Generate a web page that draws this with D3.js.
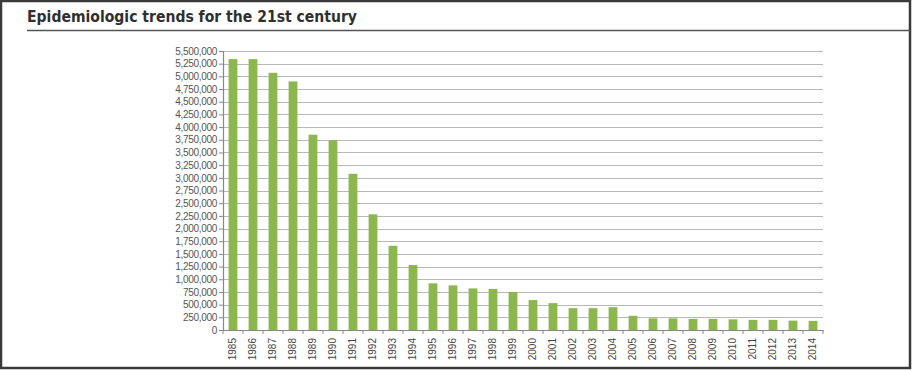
<!DOCTYPE html>
<html>
<head>
<meta charset="utf-8">
<script src="https://cdn.jsdelivr.net/npm/d3@7"></script>
<style>
  html, body { margin: 0; padding: 0; background: #fff; }
  svg { display: block; }
</style>
</head>
<body>
<div id="chart"></div>
<script>
// ---------- data ----------
const years = ['1985', '1986', '1987', '1988', '1989', '1990', '1991', '1992', '1993', '1994',
  '1995', '1996', '1997', '1998', '1999', '2000', '2001', '2002', '2003', '2004',
  '2005', '2006', '2007', '2008', '2009', '2010', '2011', '2012', '2013', '2014'];
const cases = [5340000, 5340000, 5070000, 4900000, 3850000, 3740000, 3080000, 2280000, 1660000, 1280000,
  920000, 880000, 820000, 810000, 750000, 590000, 530000, 430000, 430000, 450000,
  280000, 230000, 230000, 220000, 220000, 210000, 200000, 200000, 185000, 180000];
const yTicks = d3.range(0, 5500001, 250000);
const title = 'Epidemiologic trends for the 21st century';

// ---------- layout ----------
const W = 912, H = 371;
const plot = { left: 223, right: 823, top: 51, bottom: 330 };

const svg = d3.select('#chart').append('svg')
  .attr('width', W).attr('height', H)
  .attr('viewBox', `0 0 ${W} ${H}`);

// outer frame
svg.append('rect')
  .attr('x', 1).attr('y', 1).attr('width', W - 3).attr('height', H - 4)
  .attr('fill', '#fff').attr('stroke', '#3a3a3a').attr('stroke-width', 2.5);

// title + underline
svg.append('text')
  .attr('x', 27).attr('y', 22)
  .attr('font-family', '"DejaVu Sans", sans-serif')
  .attr('font-weight', 'bold')
  .attr('font-size', 15)
  .attr('fill', '#2f2f2f')
  .attr('textLength', 330)
  .attr('lengthAdjust', 'spacingAndGlyphs')
  .text(title);

svg.append('line')
  .attr('x1', 27).attr('x2', W - 2).attr('y1', 30.5).attr('y2', 30.5)
  .attr('stroke', '#555').attr('stroke-width', 1.5);

// ---------- scales ----------
const x = d3.scaleBand().domain(years).range([plot.left, plot.right]).paddingInner(0.56).paddingOuter(0.28);
const xTicks = d3.scaleBand().domain(years).range([plot.left, plot.right]);
const y = d3.scaleLinear().domain([0, 5500000]).range([plot.bottom, plot.top]);

// gridlines
svg.append('g')
  .selectAll('line')
  .data(yTicks.slice(1))
  .join('line')
  .attr('x1', plot.left).attr('x2', plot.right)
  .attr('y1', d => Math.round(y(d)) + 0.5).attr('y2', d => Math.round(y(d)) + 0.5)
  .attr('stroke', '#b8b8b8').attr('stroke-width', 1.2);

// bars
svg.append('g')
  .selectAll('rect')
  .data(years.map((yr, i) => ({ yr, v: cases[i] })))
  .join('rect')
  .attr('x', d => x(d.yr))
  .attr('width', x.bandwidth())
  .attr('y', d => y(d.v))
  .attr('height', d => y(0) - y(d.v))
  .attr('fill', '#8cb64e');

// y axis
const yAxis = svg.append('g')
  .attr('transform', `translate(${plot.left},0)`)
  .call(d3.axisLeft(y).tickValues(yTicks).tickSize(4).tickPadding(2)
    .tickFormat(d3.format(',')));
yAxis.select('.domain').attr('stroke', '#888').attr('stroke-width', 1.2);
yAxis.selectAll('.tick line').attr('stroke', '#888');
yAxis.selectAll('text')
  .attr('font-family', '"Liberation Sans", Arial, sans-serif')
  .attr('font-size', 10)
  .attr('letter-spacing', -0.3)
  .attr('fill', '#555');

// x axis
const xAxis = svg.append('g')
  .attr('transform', `translate(0,${plot.bottom})`)
  .call(d3.axisBottom(xTicks).tickSize(0).tickPadding(0));
xAxis.select('.domain').attr('stroke', '#888').attr('stroke-width', 1.2);
xAxis.selectAll('.tick text')
  .attr('font-family', '"Liberation Sans", Arial, sans-serif')
  .attr('font-size', 10)
  .attr('fill', '#444')
  .attr('transform', 'rotate(-90)')
  .attr('x', -8).attr('y', -1).attr('dy', '0.35em')
  .style('text-anchor', 'end');

// small ticks between categories
svg.append('g')
  .selectAll('line')
  .data(years.concat(['end']))
  .join('line')
  .attr('x1', (d, i) => plot.left + i * xTicks.step())
  .attr('x2', (d, i) => plot.left + i * xTicks.step())
  .attr('y1', plot.bottom).attr('y2', plot.bottom + 4)
  .attr('stroke', '#888');
</script>
</body>
</html>
